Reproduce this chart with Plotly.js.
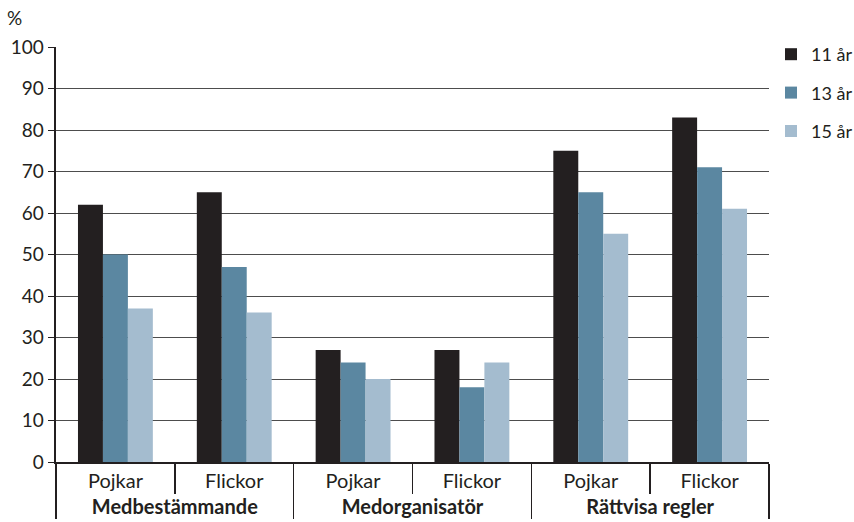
<!DOCTYPE html>
<html>
<head>
<meta charset="utf-8">
<script src="https://cdn.plot.ly/plotly-3.0.1.min.js"></script>
<style>
html,body{margin:0;padding:0;background:#fff;}
#chart{width:854px;height:522px;}
</style>
</head>
<body>
<div id="chart"></div>
<script>
const groups = ["Medbestämmande","Medbestämmande","Medorganisatör","Medorganisatör","Rättvisa regler","Rättvisa regler"];
const subgroups = ["Pojkar","Flickor","Pojkar","Flickor","Pojkar","Flickor"];
const seriesNames = ["11 år","13 år","15 år"];
const values11 = [62,65,27,27,75,83];
const values13 = [50,47,24,18,65,71];
const values15 = [37,36,20,24,55,61];
const yTicks = [0,10,20,30,40,50,60,70,80,90,100];

const colors = ["#231f20","#5b87a1","#a4bccf"];
const allVals = [values11, values13, values15];
const font = "Lato, 'Open Sans', sans-serif";

const traces = allVals.map((v,i)=>({
  type:"bar",
  name:seriesNames[i],
  x:[groups, subgroups],
  y:v,
  marker:{color:colors[i], line:{width:0}},
  legendgroup:"g"+i,
  hoverinfo:"skip"
}));

const layout = {
  width:854, height:522,
  margin:{l:56, r:85, t:47, b:60},
  paper_bgcolor:"#fff", plot_bgcolor:"#fff",
  font:{family:font, size:20, color:"#231f20"},
  barmode:"group",
  bargap:0.37,
  bargroupgap:0,
  showlegend:true,
  legend:{xref:"container", yref:"container", x:771/854, xanchor:"left", y:1-36/522, yanchor:"top",
          tracegroupgap:12, font:{family:font, size:18, color:"#231f20"}, itemwidth:30,
          bgcolor:"rgba(0,0,0,0)"},
  xaxis:{
    type:"multicategory",
    showline:true, linecolor:"#231f20", linewidth:2,
    ticks:"outside", tickson:"boundaries", ticklen:30, tickcolor:"#231f20", tickwidth:1.5,
    showdividers:true, dividercolor:"#231f20", dividerwidth:1.5,
    tickfont:{family:font, size:20, color:"#231f20"},
    showgrid:false, zeroline:false, fixedrange:true
  },
  yaxis:{
    range:[0,100], tickvals:yTicks, ticktext:yTicks.map(String),
    showgrid:true, gridcolor:"#4d4d4d", gridwidth:1,
    showline:true, linecolor:"#231f20", linewidth:2.5,
    ticks:"outside", ticklen:6, tickcolor:"#231f20", tickwidth:1,
    zeroline:false,
    tickfont:{family:font, size:19, color:"#231f20"}
  },
  annotations:[{
    text:"%", xref:"paper", yref:"paper", x:-0.058, y:1.0, yshift:16,
    xanchor:"center", yanchor:"bottom", showarrow:false,
    font:{family:font, size:19, color:"#231f20"}
  }]
};

Plotly.newPlot("chart", traces, layout, {displayModeBar:false, staticPlot:true}).then(()=>{
  document.querySelectorAll(".xaxislayer-above text").forEach(t=>{
    if (groups.indexOf(t.textContent) >= 0) t.style.fontWeight = "bold";
  });
});
</script>
</body>
</html>
